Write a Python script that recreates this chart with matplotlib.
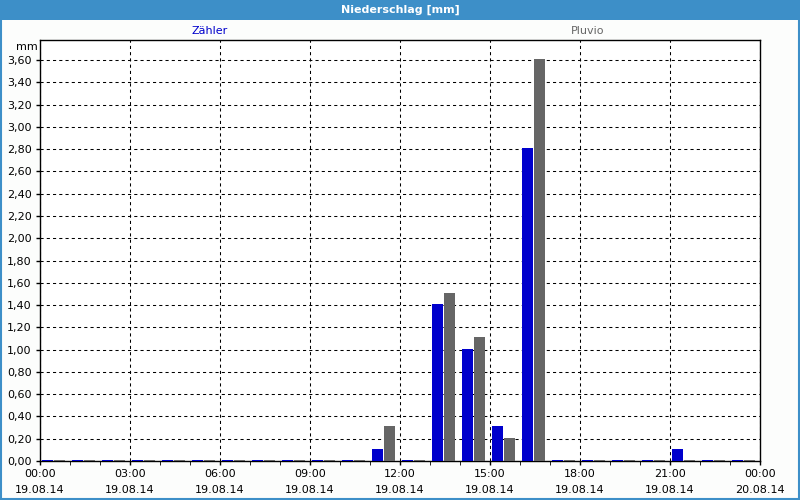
import matplotlib.pyplot as plt
import numpy as np
from matplotlib.patches import Rectangle

# Stundenwerte 19.08.14, 00:00 .. 23:00
hours = list(range(24))
zaehler = [0.01, 0.01, 0.01, 0.01, 0.01, 0.01, 0.01, 0.01, 0.01, 0.01, 0.01, 0.11,
           0.01, 1.41, 1.01, 0.31, 2.81, 0.01, 0.01, 0.01, 0.01, 0.11, 0.01, 0.01]
pluvio = [0.01, 0.01, 0.01, 0.01, 0.01, 0.01, 0.01, 0.01, 0.01, 0.01, 0.01, 0.31,
          0.01, 1.51, 1.11, 0.21, 3.61, 0.01, 0.01, 0.01, 0.01, 0.01, 0.01, 0.01]
tick_hours = [0, 3, 6, 9, 12, 15, 18, 21, 24]
tick_labels = ['00:00\n19.08.14', '03:00\n19.08.14', '06:00\n19.08.14', '09:00\n19.08.14',
               '12:00\n19.08.14', '15:00\n19.08.14', '18:00\n19.08.14', '21:00\n19.08.14',
               '00:00\n20.08.14']
y_ticks = np.arange(0, 3.61, 0.2)

blue = '#0000cc'
grey = '#666666'
frame = '#3d8fc8'

fig = plt.figure(figsize=(8, 5), dpi=100, facecolor='#fcfdfc')
ax = fig.add_axes([0.05, 0.078, 0.9, 0.842])
ax.set_facecolor('white')

x = np.array(hours)
ax.bar(x + 0.25, zaehler, width=0.37, color=blue, align='center', zorder=3)
ax.bar(x + 0.64, pluvio, width=0.37, color=grey, align='center', zorder=3)

ax.set_xlim(0, 24)
ax.set_ylim(0, 3.78)
ax.set_xticks(tick_hours)
ax.set_xticklabels(tick_labels, fontsize=8, linespacing=1.75)
ax.set_xticks(hours, minor=True)
ax.set_yticks(y_ticks)
ax.yaxis.set_major_formatter(plt.FuncFormatter(lambda v, p: ('%.2f' % v).replace('.', ',')))
ax.tick_params(axis='y', labelsize=8)
ax.tick_params(axis='both', direction='out', length=3, width=1, color='black', pad=3)
ax.tick_params(axis='x', which='minor', direction='out', length=3)
ax.grid(True, which='major', color='black', linestyle=(0, (3, 3)), linewidth=0.75, zorder=1)
for s in ax.spines.values():
    s.set_linewidth(1)
    s.set_color('black')

# Titelleiste und Rahmen
fig.patches.append(Rectangle((0, 0.96), 1, 0.04, transform=fig.transFigure,
                             facecolor=frame, edgecolor='none'))
fig.patches.append(Rectangle((0.001, 0.002), 0.998, 0.996, transform=fig.transFigure,
                             facecolor='none', edgecolor=frame, linewidth=1.5))
fig.text(0.5, 0.98, 'Niederschlag [mm]', color='white', fontsize=8, fontweight='bold',
         ha='center', va='center')
fig.text(0.262, 0.937, 'Zähler', color=blue, fontsize=8, ha='center', va='center')
fig.text(0.735, 0.937, 'Pluvio', color=grey, fontsize=8, ha='center', va='center')
fig.text(0.047, 0.907, 'mm', color='black', fontsize=8, ha='right', va='center')

fig.savefig('out.png', dpi=100, facecolor=fig.get_facecolor())
